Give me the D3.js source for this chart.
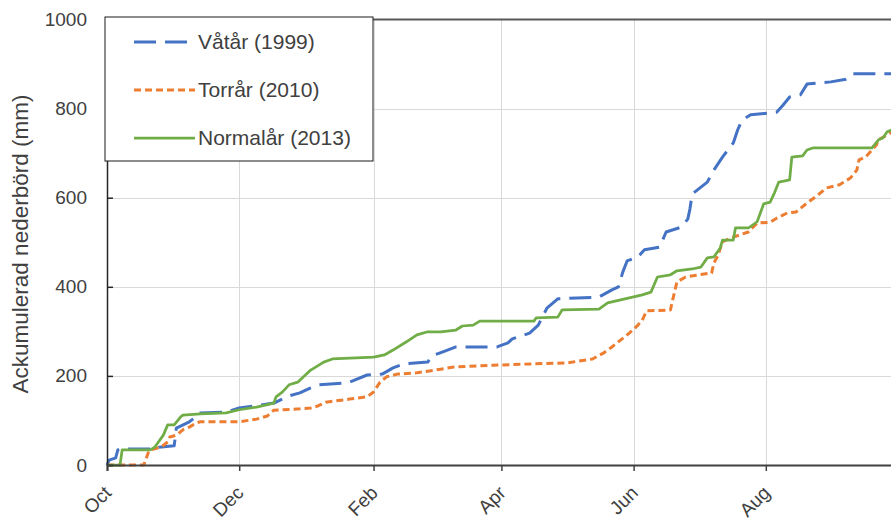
<!DOCTYPE html>
<meta charset='utf-8'>
<title>Ackumulerad nederbörd</title>
<style>
  body { margin: 0; background: #fff; }
  svg { display: block; font-family: 'Liberation Sans', Arial, sans-serif; }
  .grid line { stroke: #d9d9d9; stroke-width: 1px; shape-rendering: crispEdges; }
  .tick text { fill: #404040; font-size: 19px; }
</style>
<body>
<script src='https://d3js.org/d3.v7.min.js'></script>
<script>
  // days after 1 Oct, accumulated precipitation (mm)
  var wet1999 = [[0,0],[1,11],[4,16],[5,34],[6,36],[23,36],[24,40],[31,43],[32,83],[38,97],[41,108],[43,117],[55,119],[61,128],[77,139],[84,155],[89,162],[94,173],[98,180],[109,184],[112,186],[120,202],[127,204],[132,218],[137,227],[148,231],[150,245],[155,254],[161,265],[180,265],[185,274],[187,283],[195,296],[199,314],[203,352],[208,373],[227,377],[233,393],[236,400],[238,433],[240,458],[245,467],[248,483],[255,489],[258,523],[265,534],[268,552],[269,575],[270,608],[277,635],[280,662],[284,691],[289,723],[291,752],[293,774],[297,786],[306,790],[309,792],[312,808],[315,826],[320,831],[323,855],[334,860],[341,866],[344,878],[364,878]];

  var dry2010 = [[0,0],[17,0],[19,27],[20,34],[25,40],[28,52],[29,63],[32,67],[35,79],[38,85],[41,94],[43,97],[61,97],[69,103],[74,110],[77,123],[89,126],[94,128],[97,132],[101,141],[112,148],[120,153],[123,164],[126,186],[129,198],[134,204],[143,207],[154,215],[160,220],[178,224],[196,227],[212,229],[224,238],[229,251],[233,265],[241,296],[245,314],[247,325],[249,346],[260,348],[261,370],[263,411],[267,422],[272,426],[279,431],[280,453],[282,471],[284,501],[288,510],[296,523],[300,543],[306,545],[309,554],[314,566],[318,568],[323,588],[327,602],[332,622],[338,629],[343,644],[346,662],[347,685],[350,691],[353,707],[355,718],[356,730],[360,741],[362,747],[364,754]];

  var normal2013 = [[0,0],[6,0],[7,34],[20,34],[22,40],[26,67],[28,90],[31,90],[34,108],[35,112],[43,115],[55,117],[61,124],[69,130],[77,139],[78,153],[81,164],[84,180],[88,186],[94,213],[100,231],[104,238],[123,242],[128,247],[132,258],[138,276],[143,292],[148,299],[154,299],[161,303],[164,312],[169,314],[172,323],[197,323],[198,330],[208,332],[210,348],[227,350],[231,364],[241,375],[247,382],[251,388],[254,422],[260,427],[263,436],[270,440],[274,444],[277,465],[280,467],[283,487],[284,505],[289,505],[290,532],[296,532],[300,546],[303,586],[306,590],[308,611],[310,635],[315,640],[316,691],[321,694],[323,707],[326,712],[353,712],[356,730],[358,734],[360,748],[362,752],[364,759]];

  var seriesNames = ['Våtår (1999)', 'Torrår (2010)', 'Normalår (2013)'];
  var monthLabels = ['Oct', 'Dec', 'Feb', 'Apr', 'Jun', 'Aug'];
  var yTicks = [0, 200, 400, 600, 800, 1000];

  var series = [
    { name: seriesNames[0], data: wet1999, color: '#4472c4', width: 3, dash: '22,9' },
    { name: seriesNames[1], data: dry2010, color: '#ed7d31', width: 3, dash: '7,4' },
    { name: seriesNames[2], data: normal2013, color: '#70ad47', width: 2.75, dash: null }
  ];

  var margin = {top: 19.5, left: 107},
      width = 791,
      height = 445.5;

  var svg = d3.select('body')
    .append('svg')
    .attr('width', 891)
    .attr('height', 520);

  var g = svg.append('g')
    .attr('transform', 'translate(' + margin.left + ',' + margin.top + ')');

  var start = new Date(2010, 9, 1),
      end = new Date(2011, 9, 1);
  var x = d3.scaleTime().domain([start, end]).range([0, width]);
  var y = d3.scaleLinear().domain([0, 1000]).range([height, 0]);

  function day(d) { return d3.timeDay.offset(start, d); }
  // every second month from 1 Oct
  var monthTicks = monthLabels.map(function(m, i) { return d3.timeMonth.offset(start, i * 2); });

  // gridlines
  g.append('g')
    .attr('class', 'grid')
    .attr('transform', 'translate(0,' + height + ')')
    .call(d3.axisBottom(x).tickValues(monthTicks).tickSize(-height).tickFormat(''))
    .call(function(s) { s.select('.domain').remove(); });

  g.append('g')
    .attr('class', 'grid')
    .call(d3.axisLeft(y).tickValues(yTicks.slice(1, -1)).tickSize(-width).tickFormat(''))
    .call(function(s) { s.select('.domain').remove(); });

  // top border
  g.append('line')
    .attr('x1', 0).attr('x2', width)
    .attr('y1', 0).attr('y2', 0)
    .attr('stroke', '#595959')
    .attr('stroke-width', 2);

  // lines
  var line = d3.line()
    .x(function(d) { return x(day(d[0])); })
    .y(function(d) { return y(d[1]); });

  series.forEach(function(s) {
    g.append('path')
      .datum(s.data)
      .attr('d', line)
      .attr('fill', 'none')
      .attr('stroke', s.color)
      .attr('stroke-width', s.width)
      .attr('stroke-dasharray', s.dash)
      .attr('stroke-linejoin', 'round');
  });

  // y axis, ticks pointing inwards
  var yAxis = g.append('g')
    .call(d3.axisLeft(y).tickValues(yTicks).tickSize(-6).tickPadding(20).tickFormat(d3.format('d')));
  yAxis.select('.domain').attr('stroke', '#262626').attr('stroke-width', 1.5);
  yAxis.selectAll('.tick line').attr('stroke', '#262626').attr('stroke-width', 1.5);

  // x axis
  var xAxis = g.append('g')
    .attr('transform', 'translate(0,' + height + ')')
    .call(d3.axisBottom(x).tickValues(monthTicks).tickSize(6)
      .tickFormat(function(d, i) { return monthLabels[i]; }));
  xAxis.select('.domain').attr('stroke', '#404040').attr('stroke-width', 2);
  xAxis.selectAll('.tick line').attr('stroke', '#404040').attr('stroke-width', 1.5);
  xAxis.selectAll('.tick text')
    .attr('text-anchor', 'end')
    .attr('x', 0).attr('y', 0).attr('dy', 0)
    .attr('transform', 'translate(5,29) rotate(-45)');

  // y axis title
  svg.append('text')
    .attr('transform', 'translate(28,244) rotate(-90)')
    .attr('text-anchor', 'middle')
    .attr('fill', '#404040')
    .style('font-size', '22.5px')
    .text('Ackumulerad nederbörd (mm)');

  // legend
  var legend = svg.append('g').attr('transform', 'translate(105,17)');
  legend.append('rect')
    .attr('width', 268).attr('height', 144)
    .attr('fill', '#fff')
    .attr('stroke', '#1a1a1a')
    .attr('stroke-width', 1);

  series.forEach(function(s, i) {
    var ly = 25 + i * 48;
    legend.append('line')
      .attr('x1', 29).attr('x2', 90)
      .attr('y1', ly).attr('y2', ly)
      .attr('stroke', s.color)
      .attr('stroke-width', s.width)
      .attr('stroke-dasharray', s.dash);
    legend.append('text')
      .attr('x', 93).attr('y', ly + 7)
      .attr('fill', '#404040')
      .style('font-size', '21px')
      .text(s.name);
  });
</script>
</body>
